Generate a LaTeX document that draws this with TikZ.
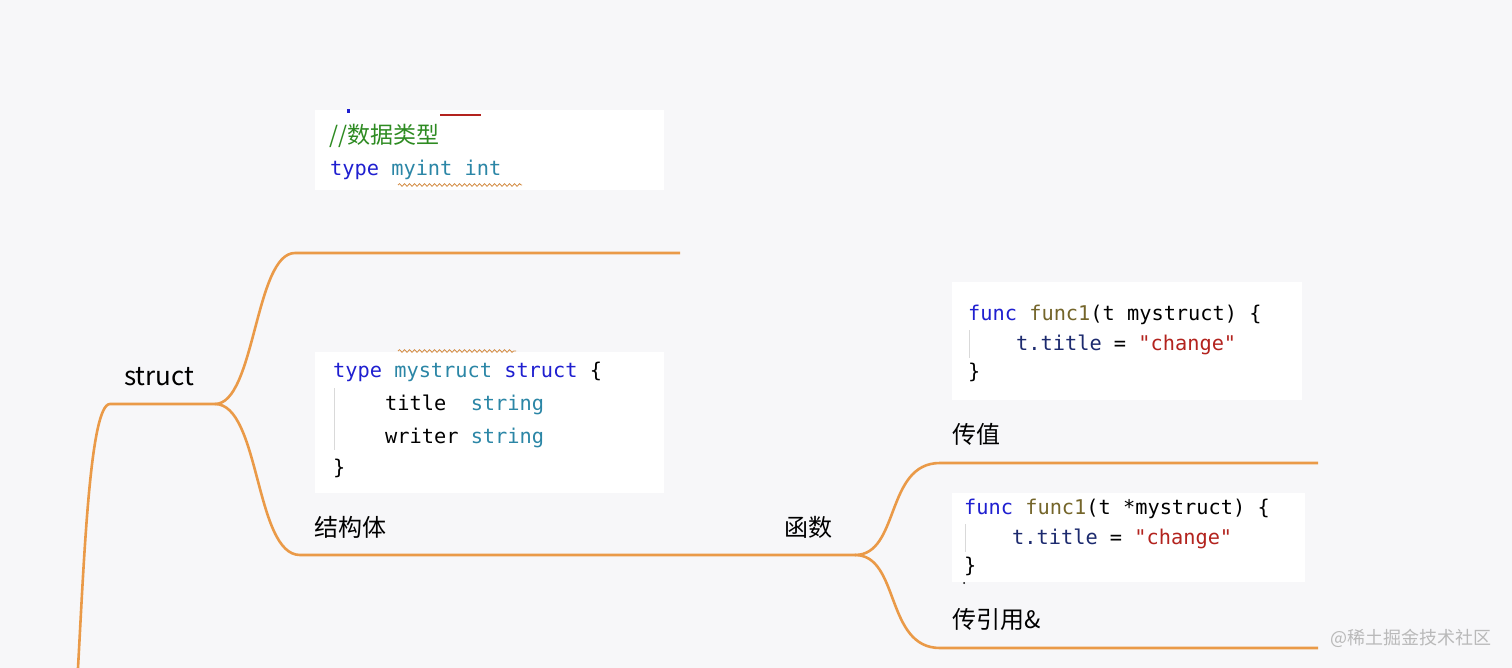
\documentclass[tikz,border=0pt]{standalone}
\usepackage{fontspec}
\setmainfont{Noto Sans CJK SC}
\newfontfamily\cjk{Noto Sans CJK SC}
\newfontfamily\code{DejaVu Sans Mono}
\usetikzlibrary{decorations.pathmorphing}
\definecolor{bg}{HTML}{F7F7F9}
\definecolor{br}{HTML}{EA9A48}
\definecolor{kw}{HTML}{1F1FD0}
\definecolor{ty}{HTML}{2B86A6}
\definecolor{fn}{HTML}{74652A}
\definecolor{st}{HTML}{B3231E}
\definecolor{cm}{HTML}{2E8B22}
\definecolor{id}{HTML}{1C2A6E}
\begin{document}
\begin{tikzpicture}[x=1pt,y=-1pt,
  branch/.style={draw=br,line width=2.6pt},
  lbl/.style={anchor=base west,font=\cjk\fontsize{24}{24}\selectfont,text=black,inner sep=0},
  codebox/.style={fill=white,draw=none},
  cl/.style={anchor=base west,font=\code\fontsize{20.3}{20}\selectfont,inner sep=0}]
\path[fill=bg] (0,0) rectangle (1512,668);
\useasboundingbox (0,0) rectangle (1512,668);
% code boxes
\fill[codebox] (315,110) rectangle (664,190);
\fill[codebox] (315,352) rectangle (664,493);
\fill[codebox] (952,282) rectangle (1302,400);
\fill[codebox] (952,493) rectangle (1305,582);
% box 1
\draw[st,line width=1.5pt] (440,115) -- (481,115);
\fill[kw] (347,109) rectangle (350,113);
\node[cl,text=cm,font=\cjk\fontsize{23}{23}\selectfont] (c1a) at (329,144) {//数据类型};
\node[cl] (c1b) at (330,176) {\textcolor{kw}{type} \textcolor{ty}{myint int}};
\draw[br!90!black,line width=0.8pt,decorate,decoration={snake,amplitude=1.3pt,segment length=5pt}] (398,185) -- (522,185);
% box 2
\draw[br!90!black,line width=0.8pt,decorate,decoration={snake,amplitude=1.3pt,segment length=5pt}] (398,351) -- (516,351);
\node[cl] (c2a) at (333,377) {\textcolor{kw}{type} \textcolor{ty}{mystruct} \textcolor{kw}{struct} \{};
\node[cl] (c2b) at (385,410) {title\ \ \textcolor{ty}{string}};
\node[cl] (c2c) at (385,443) {writer \textcolor{ty}{string}};
\node[cl] (c2d) at (333,474) {\}};
\draw[gray!30,line width=1pt] (334,388) -- (334,450);
% box 3
\node[cl] (c3a) at (968,320) {\textcolor{kw}{func} \textcolor{fn}{func1}(t mystruct) \{};
\node[cl] (c3b) at (1016,350) {\textcolor{id}{t.title} = \textcolor{st}{"change"}};
\node[cl] (c3c) at (968,378) {\}};
\draw[gray!30,line width=1pt] (969,330) -- (969,358);
% box 4
\node[cl] (c4a) at (964,514) {\textcolor{kw}{func} \textcolor{fn}{func1}(t *mystruct) \{};
\node[cl] (c4b) at (1012,544) {\textcolor{id}{t.title} = \textcolor{st}{"change"}};
\node[cl] (c4c) at (964,572) {\}};
\draw[gray!30,line width=1pt] (965,524) -- (965,552);
\fill[black] (964,583) circle (1pt);
% branch points
\coordinate (root) at (78,668);
\coordinate (s) at (215,404);
\coordinate (up) at (680,253);
\coordinate (f) at (855,555);
\coordinate (v) at (1318,463);
\coordinate (r) at (1318,648);
\draw[branch] (root) .. controls (84,560) and (90,404) .. (110,404) -- (s);
\draw[branch] (s) .. controls (255,404) and (255,253) .. (295,253) -- (up);
\draw[branch] (s) .. controls (260,404) and (255,555) .. (300,555) -- (f);
\draw[branch] (f) .. controls (900,555) and (885,463) .. (940,463) -- (v);
\draw[branch] (f) .. controls (900,555) and (885,648) .. (940,648) -- (r);
% labels
\node[lbl,font=\cjk\fontsize{26}{26}\selectfont] (l1) at (124,385) {struct};
\node[lbl] (l2) at (314,536) {结构体};
\node[lbl] (l3) at (784,536) {函数};
\node[lbl] (l4) at (952,443) {传值};
\node[lbl] (l5) at (952,628) {传引用\&};
\node[anchor=base west,font=\cjk\fontsize{18}{18}\selectfont,text=gray!55,inner sep=0] (wm) at (1330,644) {@稀土掘金技术社区};
\end{tikzpicture}
\end{document}
